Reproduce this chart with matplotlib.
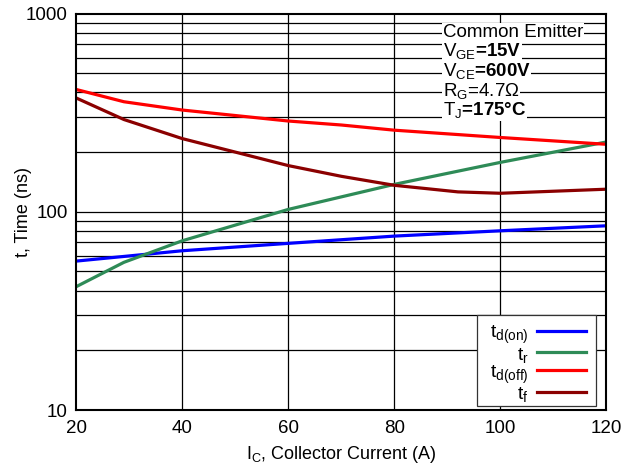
import matplotlib
matplotlib.use("Agg")
import matplotlib.pyplot as plt
from matplotlib.patches import Rectangle
from matplotlib.ticker import FixedLocator, NullFormatter, NullLocator

plt.rcParams["font.family"] = ["Liberation Sans", "DejaVu Sans"]
plt.rcParams["mathtext.fontset"] = "custom"
plt.rcParams["mathtext.rm"] = "Liberation Sans"
plt.rcParams["mathtext.it"] = "Liberation Sans"
plt.rcParams["mathtext.bf"] = "Liberation Sans:bold"
plt.rcParams["mathtext.default"] = "rm"

# Switching times vs collector current
ic_on = [20, 40, 60, 80, 100, 120]
td_on = [56.4, 63.6, 69.3, 75.4, 80.2, 85.0]

ic_r = [20, 29, 40, 60, 68, 80, 100, 120]
t_r = [41.9, 55.6, 71.4, 102.8, 115.5, 137.5, 177.5, 225.0]

ic_off = [20, 29, 40, 60, 70, 80, 100, 120]
td_off = [414, 359, 326, 287, 274, 258, 237, 219]

ic_f = [20, 29, 40, 60, 70, 80, 92, 100, 120]
t_f = [375, 292, 234, 171, 151, 136, 126, 124, 130]

x_ticks = [20, 40, 60, 80, 100, 120]
y_ticks = [10, 100, 1000]
conditions = [
    "Common Emitter",
    r"$V_{GE}$=15V",
    r"$V_{CE}$=600V",
    r"$R_{G}$=4.7Ω",
    r"$T_{J}$=175°C",
]
cond_bold = [False, True, True, False, True]

fig = plt.figure(figsize=(6.35, 4.67), dpi=100)
ax = fig.add_axes([0.120, 0.122, 0.835, 0.849])

ax.set_yscale("log")
ax.set_xlim(20, 120)
ax.set_ylim(10, 1000)

# grid: every log step horizontally, every major x tick vertically
for dec in [10, 100]:
    for m in range(2, 10):
        ax.axhline(dec * m, color="black", linewidth=0.9, zorder=1)
ax.axhline(100, color="black", linewidth=0.9, zorder=1)
for xv in x_ticks[1:-1]:
    ax.axvline(xv, color="black", linewidth=0.9, zorder=1)

ax.plot(ic_on, td_on, color="#0000FF", linewidth=2.3, label=r"$t_{d(on)}$", zorder=3)
ax.plot(ic_r, t_r, color="#2E8B57", linewidth=2.3, label=r"$t_{r}$", zorder=3)
ax.plot(ic_off, td_off, color="#FF0000", linewidth=2.3, label=r"$t_{d(off)}$", zorder=3)
ax.plot(ic_f, t_f, color="#8B0000", linewidth=2.3, label=r"$t_{f}$", zorder=3)

ax.xaxis.set_major_locator(FixedLocator(x_ticks))
ax.yaxis.set_major_locator(FixedLocator(y_ticks))
ax.yaxis.set_minor_locator(NullLocator())
ax.yaxis.set_minor_formatter(NullFormatter())
ax.set_yticklabels([str(v) for v in y_ticks])
ax.tick_params(axis="x", which="both", length=0, labelsize=13.5, pad=7)
ax.tick_params(axis="y", which="both", length=0, labelsize=13.5, pad=6)

for s in ax.spines.values():
    s.set_linewidth(1.5)
    s.set_zorder(4)

ax.set_xlabel(r"$I_{C}$, Collector Current (A)", fontsize=13)
ax.set_ylabel("t, Time (ns)", fontsize=13)
ax.xaxis.set_label_coords(0.5, -0.085)
ax.yaxis.set_label_coords(-0.084, 0.5)

y_pos = [0.941, 0.893, 0.843, 0.793, 0.744]
for txt, yp, b in zip(conditions, y_pos, cond_bold):
    ax.text(0.691, yp, txt, transform=ax.transAxes, fontsize=13.5, va="baseline", ha="left",
            fontweight="bold" if b else "normal", zorder=5,
            bbox=dict(facecolor="white", edgecolor="none", pad=0.6))

# legend box drawn separately so it can be tight vertically but padded sideways
ax.add_patch(Rectangle((0.756, 0.010), 0.224, 0.229, transform=ax.transAxes,
                       facecolor="white", edgecolor="#333333", linewidth=0.9, zorder=5))
leg = ax.legend(loc="lower right", bbox_to_anchor=(0.961, 0.014), markerfirst=False,
                fontsize=14, frameon=False, handlelength=2.52, handleheight=1.0,
                labelspacing=-0.1, borderpad=0.0, borderaxespad=0, handletextpad=0.41)
leg.set_zorder(6)
for t in leg.get_texts():
    t.set_ha("right")

fig.savefig("out.png", dpi=100)
